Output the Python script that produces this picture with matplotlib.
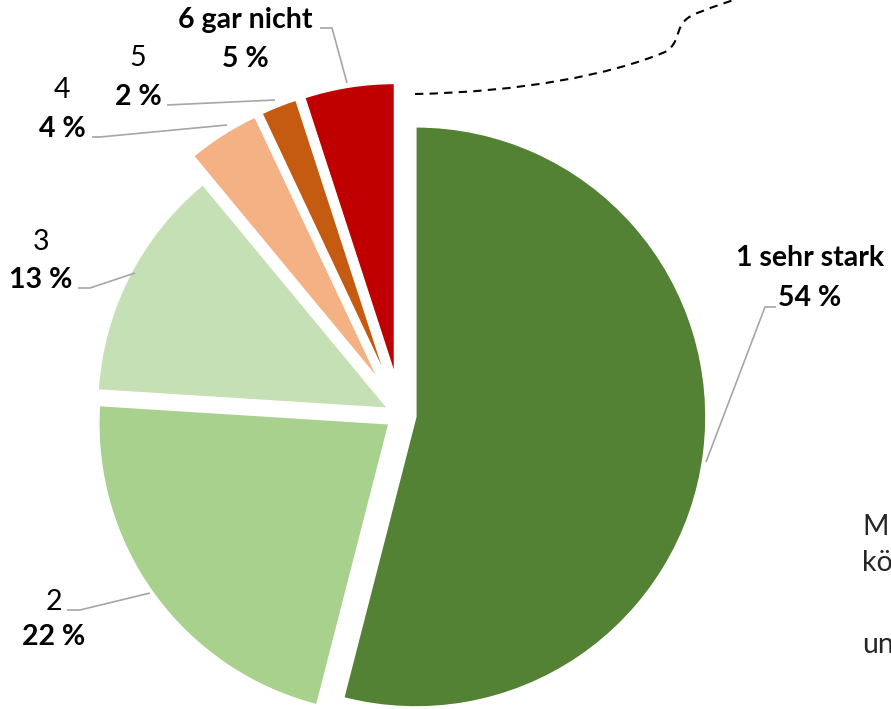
import matplotlib
matplotlib.use("Agg")
import matplotlib.pyplot as plt
from matplotlib.path import Path
from matplotlib.patches import PathPatch

# ---- data ----
categories = ["1 sehr stark", "2", "3", "4", "5", "6 gar nicht"]
values = [54, 22, 13, 4, 2, 5]
pct_labels = ["54 %", "22 %", "13 %", "4 %", "2 %", "5 %"]
bold_category = [True, False, False, False, False, True]
colors = ["#548235", "#A9D18E", "#C5E0B4", "#F4B183", "#C55A11", "#C00000"]

# ---- layout (pixel coordinates) ----
W, H = 891, 709
center = (401, 415)
radius = 290
explode = [15, 15, 15, 42, 42, 42]   # offsets in pixels
# label block centre (x), category y, percent y
label_pos = [(810, 258, 298), (54, 602, 637), (41, 242, 280),
             (62, 90, 129), (138, 58, 97), (245, 20, 59)]
leaders = [
    [(776, 307), (765, 307), (706, 462)],
    [(67, 610), (80, 610), (150, 593)],
    [(78, 288), (90, 288), (135, 273)],
    [(92, 137), (100, 137), (227, 125)],
    [(167, 105), (275, 100)],
    [(320, 28), (332, 28), (347, 83)],
]

plt.rcParams['font.family'] = ['Lato', 'DejaVu Sans']

fig = plt.figure(figsize=(W / 100, H / 100), dpi=100)
ax = fig.add_axes([0, 0, 1, 1])

ax.pie(values, colors=colors, explode=explode, startangle=270,
       counterclock=True, center=center, radius=radius,
       wedgeprops=dict(edgecolor="white", linewidth=1.0), frame=False)

ax.set_xlim(0, W)
ax.set_ylim(H, 0)
ax.set_aspect('auto')
ax.axis('off')

fs = 20.5
for cat, pct, bold, (lx, cy, py) in zip(categories, pct_labels, bold_category, label_pos):
    ax.text(lx, cy, cat, ha='center', va='center', fontsize=fs,
            fontweight='bold' if bold else 'normal', color='black')
    ax.text(lx, py, pct, ha='center', va='center', fontsize=fs,
            fontweight='bold', color='black')

for pts in leaders:
    xs = [p[0] for p in pts]
    ys = [p[1] for p in pts]
    ax.plot(xs, ys, color='#A6A6A6', lw=1.2, solid_capstyle='butt')

# dashed connector curve at the top right
verts = [(415, 94), (520, 92), (610, 75), (665, 52),
         (685, 40), (670, 22), (700, 12),
         (730, 0), (760, -8), (800, -20)]
codes = [Path.MOVETO, Path.CURVE4, Path.CURVE4, Path.CURVE4,
         Path.CURVE4, Path.CURVE4, Path.CURVE4,
         Path.CURVE4, Path.CURVE4, Path.CURVE4]
ax.add_patch(PathPatch(Path(verts, codes), facecolor='none', edgecolor='black',
                       lw=1.5, linestyle=(0, (4, 3))))

# cropped text box at right edge
for txt, y in [("M", 527), ("kö", 563), ("un", 645)]:
    ax.text(862, y, txt, ha='left', va='center', fontsize=fs, color='#262626')

fig.savefig("out.png", dpi=100)
